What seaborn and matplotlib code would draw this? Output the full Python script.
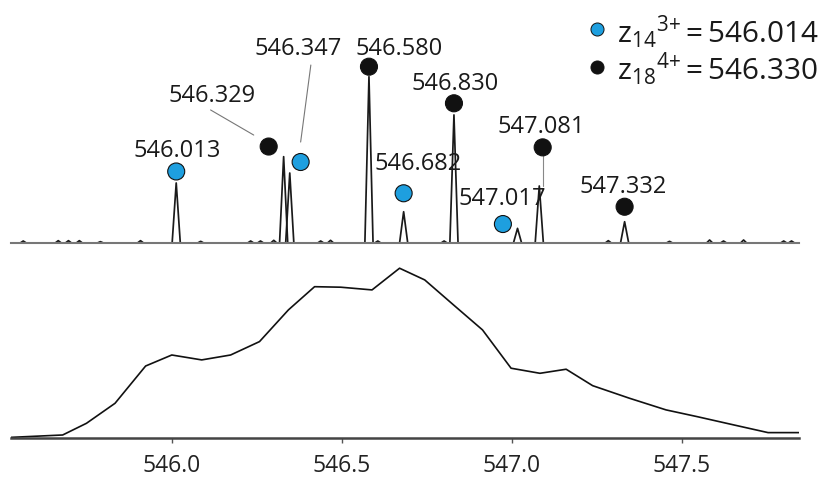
import matplotlib
matplotlib.use("Agg")
import matplotlib.pyplot as plt
import numpy as np
import pandas as pd
import seaborn as sns

# ---- data -------------------------------------------------------------
# centroided isotope peaks: m/z, relative intensity, fragment ion series
peak_mz = [546.013, 546.329, 546.347, 546.580, 546.682, 546.830, 547.017, 547.081, 547.332]
peak_int = [36.1, 51.9, 42.1, 100.0, 18.8, 77.0, 8.8, 34.3, 12.8]
peak_ion = ["z14", "z18", "z14", "z18", "z14", "z18", "z14", "z18", "z18"]

# small baseline noise bumps
noise_mz = [545.563, 545.666, 545.696, 545.728, 545.790, 545.908, 546.085, 546.232,
            546.261, 546.300, 546.438, 546.467, 546.606, 546.801, 547.284, 547.464,
            547.582, 547.623, 547.682, 547.800, 547.823]
noise_int = [1.2, 1.4, 1.4, 1.4, 0.8, 1.4, 1.0, 1.2, 1.2, 1.6, 1.2, 1.6, 1.2,
             1.2, 1.4, 1.0, 1.8, 1.2, 1.8, 1.2, 1.2]

# unresolved (low-resolution) envelope of the same region
profile_mz = [545.527, 545.679, 545.749, 545.833, 545.923, 546.000, 546.088, 546.173,
              546.258, 546.343, 546.420, 546.497, 546.589, 546.670, 546.744, 546.829,
              546.914, 546.998, 547.083, 547.160, 547.238, 547.346, 547.454, 547.546,
              547.654, 547.754, 547.845]
profile_int = [0.2, 1.6, 8.5, 20.3, 42.3, 48.8, 45.9, 48.8, 56.7, 75.4, 89.1, 88.8,
               87.2, 100.0, 93.1, 78.3, 63.6, 41.0, 38.0, 40.4, 30.7, 23.3, 16.4,
               12.4, 7.5, 3.0, 3.0]

ion_names = ["z14", "z18"]
ion_text = [r"$\mathregular{z_{14}{}^{3{+}}}\,$=$\,$546.014",
            r"$\mathregular{z_{18}{}^{4{+}}}\,$=$\,$546.330"]
ion_colors = {"z14": "#1e9fdf", "z18": "#111111"}

tick_values = [546.0, 546.5, 547.0, 547.5]
tick_labels = ["546.0", "546.5", "547.0", "547.5"]

# ---- layout -------------------------------------------------------------
XLIM = (545.527, 547.845)
marker_dx = [0.0, -0.044, 0.032, 0.0, 0.0, 0.0, -0.043, 0.010, 0.0]
marker_y = [43.0, 58.0, 48.7, 106.0, 29.9, 84.0, 11.4, 57.5, 21.8]
label_x = [546.016, 546.117, 546.372, 546.668, 546.723, 546.833, 546.973, 547.087, 547.328]
label_y = [51.7, 84.8, 113.0, 113.0, 43.9, 92.0, 22.9, 66.1, 30.1]
# leader lines (x0, y0, x1, y1) for crowded labels
leaders = [(546.114, 80.0, 546.241, 64.9),
           (546.409, 107.0, 546.379, 60.7)]

sns.set_theme(style="white")
plt.rcParams["font.family"] = ["Open Sans", "DejaVu Sans"]
plt.rcParams["mathtext.fontset"] = "custom"
plt.rcParams["mathtext.rm"] = "Open Sans"

W, H = 824, 480
fig = plt.figure(figsize=(W / 100, H / 100), dpi=100)
fig.patch.set_facecolor("white")
ax_top = fig.add_axes([11 / W, 1 - 243 / H, 788 / W, 243 / H])
ax_bot = fig.add_axes([11 / W, 1 - 437.7 / H, 788 / W, (437.7 - 255) / H])

# ---- high-resolution spectrum -----------------------------------------
rows = []
for i, (m, h) in enumerate(zip(peak_mz, peak_int)):
    w = 0.012
    rows += [(f"p{i}", m - w, 0.0), (f"p{i}", m, h), (f"p{i}", m + w, 0.0)]
for i, (m, h) in enumerate(zip(noise_mz, noise_int)):
    w = 0.009
    rows += [(f"n{i}", m - w, 0.0), (f"n{i}", m, h), (f"n{i}", m + w, 0.0)]
spec = pd.DataFrame(rows, columns=["unit", "mz", "intensity"])

sns.lineplot(data=spec, x="mz", y="intensity", units="unit", estimator=None,
             color="#1a1a1a", linewidth=1.25, sort=False, legend=False, ax=ax_top)

# the 547.081 marker sits on a stalk above its peak
i81 = peak_mz.index(547.081)
ax_top.plot([peak_mz[i81] + marker_dx[i81]] * 2, [peak_int[i81], marker_y[i81]],
            color="#888888", linewidth=0.8, zorder=3)
for x0, y0, x1, y1 in leaders:
    ax_top.plot([x0, x1], [y0, y1], color="#777777", linewidth=0.8, zorder=3)

markers = pd.DataFrame({
    "mz": [m + d for m, d in zip(peak_mz, marker_dx)],
    "y": marker_y,
    "ion": peak_ion,
})
sns.scatterplot(data=markers, x="mz", y="y", hue="ion", palette=ion_colors,
                s=150, edgecolor="#111111", linewidth=0.8, legend=False,
                zorder=5, ax=ax_top)

for m, lx, ly in zip(peak_mz, label_x, label_y):
    ax_top.text(lx, ly, f"{m:.3f}", ha="center", va="baseline",
                fontsize=17, color="#1a1a1a", zorder=6)

ax_top.set_xlim(XLIM)
ax_top.set_ylim(0, 146.1)
ax_top.set_xticks([])
ax_top.set_yticks([])
ax_top.set_xlabel("")
ax_top.set_ylabel("")
for s in ["left", "right", "top"]:
    ax_top.spines[s].set_visible(False)
ax_top.spines["bottom"].set_color("#777777")
ax_top.spines["bottom"].set_linewidth(1.5)
ax_top.patch.set_alpha(0)

# legend: ion series with monoisotopic m/z
for k, (name, txt) in enumerate(zip(ion_names, ion_text)):
    cy = [29.0, 66.7][k]
    base = [43.3, 80.0][k]
    fig.add_artist(plt.Line2D([596.7 / W], [1 - cy / H], marker="o", markersize=9.4,
                              markerfacecolor=ion_colors[name],
                              markeredgecolor="#111111", markeredgewidth=0.7,
                              linestyle="none", transform=fig.transFigure))
    fig.text(617 / W, 1 - base / H, txt, ha="left", va="baseline",
             fontsize=21.4, color="#1a1a1a")

# ---- low-resolution envelope -------------------------------------------
env = pd.DataFrame({"mz": profile_mz, "intensity": profile_int})
sns.lineplot(data=env, x="mz", y="intensity", color="#111111", linewidth=1.2,
             ax=ax_bot)
ax_bot.set_xlim(XLIM)
ax_bot.set_ylim(0, 107.8)
ax_bot.set_yticks([])
ax_bot.set_xticks(tick_values)
ax_bot.set_xticklabels(tick_labels)
ax_bot.set_xlabel("")
ax_bot.set_ylabel("")
ax_bot.tick_params(axis="x", direction="out", length=3.5, width=1.0,
                   color="#555555", pad=8, labelsize=16.5, labelcolor="#222222",
                   bottom=True)
for s in ["left", "right", "top"]:
    ax_bot.spines[s].set_visible(False)
ax_bot.spines["bottom"].set_color("#444444")
ax_bot.spines["bottom"].set_linewidth(1.8)
ax_bot.patch.set_alpha(0)

fig.savefig("out.png", dpi=100, facecolor="white")
